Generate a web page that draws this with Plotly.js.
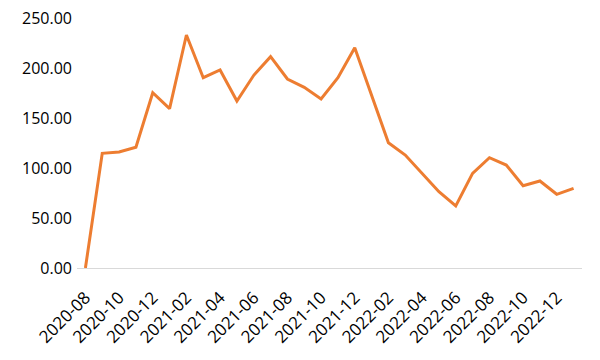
<!DOCTYPE html>
<html>
<head>
<meta charset="utf-8">
<script src="https://cdn.plot.ly/plotly-3.0.1.min.js"></script>
<style>html,body{margin:0;padding:0;background:#fff;}#chart{width:600px;height:360px;}</style>
</head>
<body>
<div id="chart"></div>
<script>
const months = ["2020-08","2020-09","2020-10","2020-11","2020-12","2021-01","2021-02","2021-03","2021-04","2021-05","2021-06","2021-07","2021-08","2021-09","2021-10","2021-11","2021-12","2022-01","2022-02","2022-03","2022-04","2022-05","2022-06","2022-07","2022-08","2022-09","2022-10","2022-11","2022-12","2023-01"];
const values = [0, 114.7, 116, 120.7, 175.3, 159.3, 233, 190.3, 198, 167, 192.7, 211.3, 189, 180.7, 169, 190.3, 220.3, 172, 125.3, 113, 94.7, 76.3, 62, 94.7, 110.3, 103, 82.3, 87, 73.7, 79.7];
const tickLabels = months.filter((m, i) => i % 2 === 0);
const yTicks = [0, 50, 100, 150, 200, 250];

Plotly.newPlot('chart', [{
  x: months,
  y: values,
  type: 'scatter',
  mode: 'lines',
  line: {color: '#ED7D31', width: 3}
}], {
  width: 600, height: 360,
  margin: {l: 77, r: 18, t: 18, b: 92},
  paper_bgcolor: '#fff', plot_bgcolor: '#fff',
  showlegend: false,
  font: {family: 'Open Sans, sans-serif', size: 16, color: '#000'},
  xaxis: {
    type: 'category',
    range: [-0.5, months.length - 0.5],
    tickvals: tickLabels, ticktext: tickLabels,
    tickangle: -45,
    showgrid: false, zeroline: false,
    showline: true, linecolor: '#d9d9d9', linewidth: 1,
    ticks: '',
    tickfont: {size: 17},
    ticklabelstandoff: 12
  },
  yaxis: {
    range: [0, 250],
    tickvals: yTicks,
    tickformat: '.2f',
    showgrid: false, zeroline: false, showline: false,
    ticks: '', ticklen: 0,
    tickfont: {size: 16},
    ticklabelstandoff: 4
  }
}, {displayModeBar: false, staticPlot: true});
</script>
</body>
</html>
